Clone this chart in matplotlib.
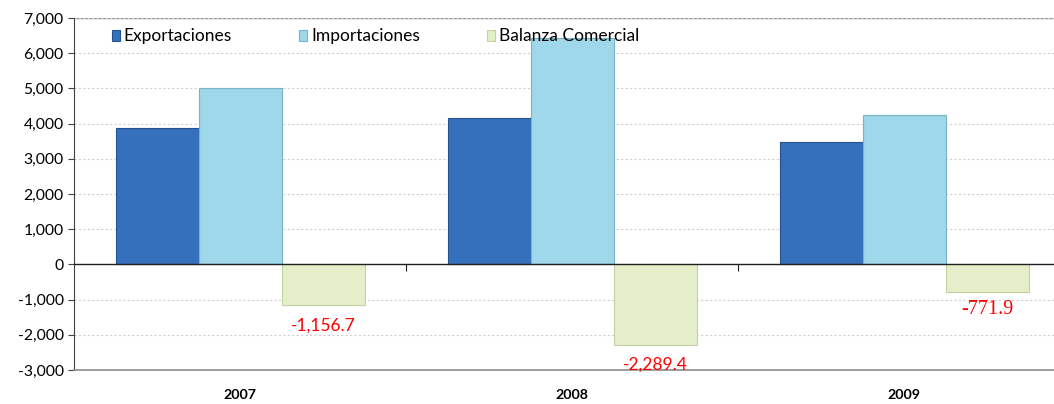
import numpy as np
import matplotlib
matplotlib.use('Agg')
import matplotlib.pyplot as plt
from matplotlib.ticker import FuncFormatter

plt.rcParams['font.family'] = ['Lato', 'DejaVu Sans']

years = ['2007', '2008', '2009']
exportaciones = [3864.1, 4148.0, 3480.0]
importaciones = [5020.8, 6437.4, 4251.9]
balanza = [-1156.7, -2289.4, -771.9]
balanza_labels = ['-1,156.7', '-2,289.4', '-771.9']

fig = plt.figure(figsize=(10.54, 4.04), dpi=100)
ax = fig.add_axes([74 / 1054, 34 / 404, 996 / 1054, 352 / 404])

x = np.arange(len(years))
w = 0.25
ax.bar(x - w, exportaciones, w, color='#3570BD', edgecolor='#24518F', linewidth=0.8,
       label='Exportaciones', zorder=3)
ax.bar(x, importaciones, w, color='#9ED8EA', edgecolor='#7AB3C4', linewidth=0.8,
       label='Importaciones', zorder=3)
ax.bar(x + w, balanza, w, color='#E4EFC9', edgecolor='#C3D2A2', linewidth=0.8,
       label='Balanza Comercial', zorder=3)

# etiquetas de la balanza
for i, (v, t) in enumerate(zip(balanza, balanza_labels)):
    if i == 2:
        ax.text(x[i] + w, v - 500, t, ha='center', va='center', color='#FF0000',
                fontsize=14.5, family=['Liberation Serif'], zorder=4)
    else:
        ax.text(x[i] + w, v - 570, t, ha='center', va='center', color='#FF0000',
                fontsize=12.5, zorder=4)

ax.set_xlim(-0.5, 2.5)
ax.set_ylim(-3000, 7000)
ax.set_yticks(np.arange(-3000, 7001, 1000))
ax.yaxis.set_major_formatter(FuncFormatter(lambda v, p: f'{v:,.0f}'))
ax.tick_params(axis='y', labelsize=11.3, length=4, color='#404040')
ax.yaxis.grid(True, linestyle=(0, (2, 2)), color='#D0D0D0', linewidth=0.8, zorder=0)

ax.set_xticks(x)
ax.set_xticklabels(years, fontweight='bold', fontsize=10.3)
ax.tick_params(axis='x', length=0, pad=14)

for s in ['top', 'right']:
    ax.spines[s].set_visible(False)
ax.spines['bottom'].set_color('#8C8C8C')
ax.spines['bottom'].set_linewidth(1.2)
ax.spines['left'].set_color('#404040')
ax.axhline(7000, color='#8C8C8C', linewidth=1.0, zorder=1)
ax.axhline(0, color='#202020', linewidth=1.0, zorder=3.5)

# marcas entre categorías sobre la línea del cero
sec = ax.secondary_xaxis(0.3)
sec.set_xticks([0.5, 1.5])
sec.set_xticklabels(['', ''])
sec.tick_params(length=5, color='#202020')
sec.spines['bottom'].set_visible(False)

ax.legend(loc='upper left', bbox_to_anchor=(0.029, 0.995), ncol=3, frameon=False,
          fontsize=12.5, handlelength=0.5, handleheight=0.6, handletextpad=0.2,
          columnspacing=3.85, borderaxespad=0.1)

plt.savefig('out.png', dpi=100)
